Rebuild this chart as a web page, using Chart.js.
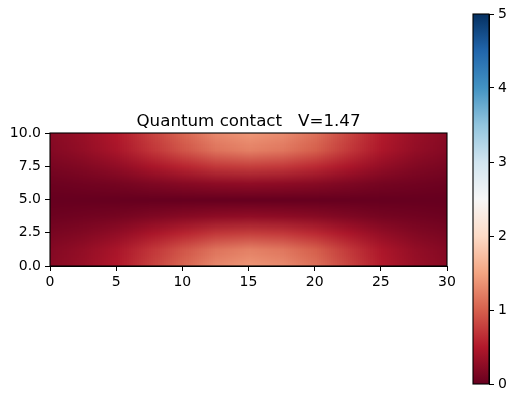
<!DOCTYPE html>
<html>
<head>
<meta charset="utf-8">
<script src="https://cdn.jsdelivr.net/npm/chart.js@4.4.0/dist/chart.umd.min.js"></script>
<style>
  html, body { margin: 0; padding: 0; background: #fff; }
  #wrap { position: relative; width: 519px; height: 403px; }
  #main { position: absolute; left: 0; top: 0; }
  #cbar { position: absolute; left: 460px; top: 0; }
</style>
</head>
<body>
<div id="wrap">
  <canvas id="main" width="519" height="403"></canvas>
  <canvas id="cbar" width="59" height="403"></canvas>
</div>
<script>
// heatmap.js
const titleText = "Quantum contact   V=1.47";

// sample positions of the grid (data units)
const xNodes = [0, 2.5, 5, 7.5, 10, 12.5, 15, 17.5, 20, 22.5, 25, 27.5, 30];
const yNodes = [0, 1.25, 2.5, 3.75, 5, 6.25, 7.5, 8.75, 10];

// values, one row per y node (bottom to top)
const rowY0    = [0.22, 0.33, 0.50, 0.78, 1.05, 1.30, 1.40, 1.32, 1.12, 0.82, 0.52, 0.33, 0.22];
const rowY1_25 = [0.19, 0.29, 0.44, 0.69, 0.92, 1.14, 1.23, 1.16, 0.99, 0.72, 0.46, 0.29, 0.19];
const rowY2_5  = [0.12, 0.18, 0.28, 0.43, 0.58, 0.72, 0.77, 0.73, 0.62, 0.45, 0.29, 0.18, 0.12];
const rowY3_75 = [0.04, 0.07, 0.10, 0.16, 0.21, 0.26, 0.28, 0.26, 0.22, 0.16, 0.10, 0.07, 0.04];
const rowY5    = [0.00, 0.00, 0.00, 0.00, 0.00, 0.00, 0.00, 0.00, 0.00, 0.00, 0.00, 0.00, 0.00];
const rowY6_25 = [0.04, 0.07, 0.10, 0.16, 0.21, 0.26, 0.28, 0.26, 0.22, 0.16, 0.10, 0.07, 0.04];
const rowY7_5  = [0.12, 0.18, 0.28, 0.43, 0.58, 0.72, 0.77, 0.73, 0.62, 0.45, 0.29, 0.18, 0.12];
const rowY8_75 = [0.19, 0.29, 0.44, 0.69, 0.92, 1.14, 1.23, 1.16, 0.99, 0.72, 0.46, 0.29, 0.19];
const rowY10   = [0.22, 0.33, 0.50, 0.78, 1.05, 1.30, 1.40, 1.32, 1.12, 0.82, 0.52, 0.33, 0.22];
const field = [rowY0, rowY1_25, rowY2_5, rowY3_75, rowY5, rowY6_25, rowY7_5, rowY8_75, rowY10];

const xTicks = [0, 5, 10, 15, 20, 25, 30];
const yTicks = [0, 2.5, 5, 7.5, 10];
const cbTicks = [0, 1, 2, 3, 4, 5];
const vMin = 0, vMax = 5;

// RdBu colormap stops
const rdbu = [
    [103, 0, 31], [178, 24, 43], [214, 96, 77], [244, 165, 130], [253, 219, 199],
    [247, 247, 247], [209, 229, 240], [146, 197, 222], [67, 147, 195], [33, 102, 172], [5, 48, 97]
];

function rdbuColor(v) {
    let t = (v - vMin) / (vMax - vMin);
    t = Math.min(1, Math.max(0, t)) * (rdbu.length - 1);
    const i = Math.min(rdbu.length - 2, Math.floor(t));
    const f = t - i;
    return rdbu[i].map((c, k) => Math.round(c + (rdbu[i + 1][k] - c) * f));
}

Chart.defaults.font.family = "'DejaVu Sans', sans-serif";
Chart.defaults.font.size = 14;
Chart.defaults.color = "#000";

function drawFrame(chart) {
    const { ctx, chartArea: a } = chart;
    ctx.save();
    ctx.strokeStyle = "#000";
    ctx.lineWidth = 1.1;
    ctx.strokeRect(a.left, a.top, a.width, a.height);
    ctx.restore();
}

// Draw the grid as an image scaled to the data extent
const heatmapPlugin = {
    id: "heatmap",
    beforeDatasetsDraw(chart) {
        const { ctx, chartArea: a, scales: { x, y } } = chart;
        const nx = xNodes.length, ny = yNodes.length;
        const off = document.createElement("canvas");
        off.width = nx; off.height = ny;
        const octx = off.getContext("2d");
        const img = octx.createImageData(nx, ny);
        for (let j = 0; j < ny; j++) {
            for (let i = 0; i < nx; i++) {
                const c = rdbuColor(field[j][i]);
                const p = ((ny - 1 - j) * nx + i) * 4;
                img.data[p] = c[0]; img.data[p + 1] = c[1]; img.data[p + 2] = c[2]; img.data[p + 3] = 255;
            }
        }
        octx.putImageData(img, 0, 0);
        const dx = (xNodes[1] - xNodes[0]) / 2, dy = (yNodes[1] - yNodes[0]) / 2;
        const left = x.getPixelForValue(xNodes[0] - dx);
        const right = x.getPixelForValue(xNodes[nx - 1] + dx);
        const top = y.getPixelForValue(yNodes[ny - 1] + dy);
        const bottom = y.getPixelForValue(yNodes[0] - dy);
        ctx.save();
        ctx.beginPath();
        ctx.rect(a.left, a.top, a.width, a.height);
        ctx.clip();
        ctx.imageSmoothingEnabled = true;
        ctx.imageSmoothingQuality = "low";
        ctx.drawImage(off, left, top, right - left, bottom - top);
        ctx.restore();
    },
    afterDraw(chart) {
        drawFrame(chart);
        // title centred over the axes, like matplotlib
        const { ctx, chartArea: a } = chart;
        ctx.save();
        ctx.font = "16.7px 'DejaVu Sans', sans-serif";
        ctx.fillStyle = "#000";
        ctx.textAlign = "center";
        ctx.textBaseline = "alphabetic";
        ctx.fillText(titleText, (a.left + a.right) / 2, a.top - 7);
        ctx.restore();
    }
};

const colorbarPlugin = {
    id: "colorbar",
    beforeDatasetsDraw(chart) {
        const { ctx, chartArea: a, scales: { y } } = chart;
        const y0 = y.getPixelForValue(vMin), y1 = y.getPixelForValue(vMax);
        const grad = ctx.createLinearGradient(0, y0, 0, y1);
        rdbu.forEach((c, i) => grad.addColorStop(i / (rdbu.length - 1), `rgb(${c[0]},${c[1]},${c[2]})`));
        ctx.save();
        ctx.fillStyle = grad;
        ctx.fillRect(a.left, a.top, a.width, a.height);
        ctx.restore();
    },
    afterDraw: drawFrame
};

const axisGrid = { drawOnChartArea: false, drawTicks: true, tickLength: 5, color: "#000", lineWidth: 1 };

new Chart(document.getElementById("main").getContext("2d"), {
    type: "scatter",
    data: { datasets: [] },
    options: {
        responsive: false,
        animation: false,
        layout: { padding: { left: 10, right: 72, top: 133, bottom: 107 } },
        plugins: {
            legend: { display: false },
            tooltip: { enabled: false },
            title: { display: false }
        },
        scales: {
            x: {
                type: "linear", min: 0, max: 30,
                afterBuildTicks: s => { s.ticks = xTicks.map(v => ({ value: v })); },
                afterFit: s => { s.height = 30; },
                ticks: { padding: 3, maxRotation: 0, autoSkip: false, callback: v => String(v) },
                grid: axisGrid,
                border: { display: true, color: "#000" }
            },
            y: {
                type: "linear", min: 0, max: 10,
                afterBuildTicks: s => { s.ticks = yTicks.map(v => ({ value: v })); },
                afterFit: s => { s.width = 40; },
                ticks: { padding: 4, autoSkip: false, callback: v => v.toFixed(1) },
                grid: axisGrid,
                border: { display: true, color: "#000" }
            }
        }
    },
    plugins: [heatmapPlugin]
});

new Chart(document.getElementById("cbar").getContext("2d"), {
    type: "scatter",
    data: { datasets: [] },
    options: {
        responsive: false,
        animation: false,
        layout: { padding: { left: 13, right: 0, top: 14, bottom: 19 } },
        plugins: { legend: { display: false }, tooltip: { enabled: false } },
        scales: {
            x: { type: "linear", display: false, min: 0, max: 1 },
            y: {
                type: "linear", position: "right", min: vMin, max: vMax,
                afterBuildTicks: s => { s.ticks = cbTicks.map(v => ({ value: v })); },
                afterFit: s => { s.width = 30; },
                ticks: { padding: 4, autoSkip: false, callback: v => String(v) },
                grid: axisGrid,
                border: { display: true, color: "#000" }
            }
        }
    },
    plugins: [colorbarPlugin]
});
</script>
</body>
</html>
